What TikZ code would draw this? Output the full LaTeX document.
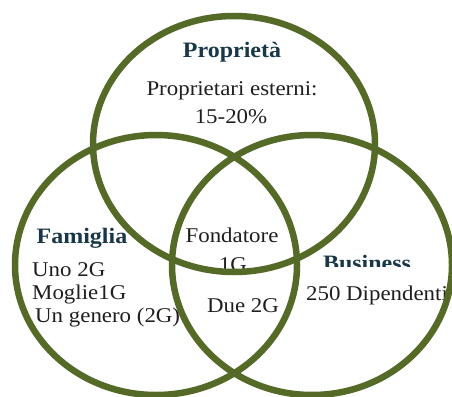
\documentclass[tikz,border=0pt]{standalone}
\usepackage{fontspec}
\setmainfont{Liberation Serif}[FakeStretch=1.09]
\definecolor{vennolive}{RGB}{86,106,40}
\definecolor{titleblue}{RGB}{24,56,72}
\definecolor{bodygray}{RGB}{30,30,30}
\begin{document}
\begin{tikzpicture}[x=1pt, y=-1pt,
    ring/.style={draw=vennolive, line width=6.5pt},
    title/.style={font=\fontsize{22}{24}\selectfont\bfseries, text=titleblue, inner sep=0pt},
    body/.style={font=\fontsize{21}{23}\selectfont, text=bodygray, inner sep=0pt}]
    \useasboundingbox (0,0) rectangle (452,396);

    % Proprieta
    \node[title, anchor=base] (proptitle) at (232, 58) {Proprietà};
    \node[body, anchor=base] (propext) at (232, 95) {Proprietari esterni:};
    \node[body, anchor=base] (propperc) at (231, 123) {15-20\%};

    % Famiglia
    \node[title, anchor=base] (famtitle) at (82, 243) {Famiglia};
    \node[body, anchor=base west] (famuno) at (32, 276) {Uno 2G};
    \node[body, anchor=base west] (fammoglie) at (32, 299) {Moglie1G};
    \node[body, anchor=base west] (famgenero) at (35, 322) {Un genero (2G)};

    % Centro
    \node[body, anchor=base] (fondatore) at (232, 242) {Fondatore};
    \node[body, anchor=base] (fondgen) at (233, 271) {1G};
    \node[body, anchor=base] (due) at (243, 312) {Due 2G};

    % Business
    \begin{scope}
        \clip (300, 240) rectangle (445, 266);
        \node[title, anchor=base] (bustitle) at (367, 270) {Business};
    \end{scope}
    \node[body, anchor=base] (dipendenti) at (377, 300) {250 Dipendenti};

    % Circles
    \draw[ring] (234, 144) ellipse [x radius=141pt, y radius=128pt];
    \draw[ring] (156, 265) ellipse [x radius=141pt, y radius=130pt];
    \draw[ring] (312, 265) ellipse [x radius=140pt, y radius=130pt];

\end{tikzpicture}
\end{document}
